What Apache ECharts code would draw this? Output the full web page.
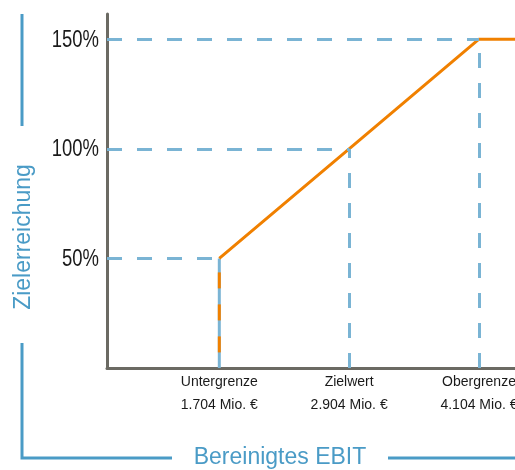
<!DOCTYPE html>
<html>
<head>
<meta charset="utf-8">
<style>
  html, body { margin: 0; padding: 0; background: #ffffff; }
  #chart { width: 515px; height: 470px; }
</style>
<script src="https://cdn.jsdelivr.net/npm/echarts@6/dist/echarts.min.js"></script>
</head>
<body>
<div id="chart"></div>
<script>
// Target thresholds of adjusted EBIT (Mio. €) and the resulting goal achievement (%)
const thresholdNames = ['Untergrenze', 'Zielwert', 'Obergrenze'];
const thresholdValues = [1704, 2904, 4104];
const thresholdLabels = ['1.704 Mio. €', '2.904 Mio. €', '4.104 Mio. €'];
const achievement = [50, 100, 150];
const yTickValues = [50, 100, 150];

// visible axis extent
const xMin = 666;
const xMax = 4437;
const yMin = 0;
const yMax = 161.5;

const ORANGE = '#f08000';
const GUIDE_BLUE = '#7ab4d4';
const TITLE_BLUE = '#4a9bc6';
const AXIS_GREY = '#6b6a63';
const TEXT_FONT = '"Liberation Sans", Arial, sans-serif';

// payout curve: linear between thresholds, capped after the upper limit
const curve = thresholdValues.map((x, i) => [x, achievement[i]]);
curve.push([xMax, achievement[achievement.length - 1]]);

// dashed guide lines from the axes to each threshold point
const guideLines = [];
thresholdValues.forEach((x, i) => {
  guideLines.push([{ coord: [xMin, achievement[i]] }, { coord: [x, achievement[i]] }]);
  if (i > 0) {
    guideLines.push([{ coord: [x, yMin] }, { coord: [x, achievement[i]] }]);
  }
});

const chart = echarts.init(document.getElementById('chart'), null, { renderer: 'canvas' });

chart.setOption({
  animation: false,
  grid: { left: 107, right: 0, top: 14, bottom: 102, outerBoundsMode: 'none', containLabel: false },
  xAxis: {
    type: 'value',
    min: xMin,
    max: xMax,
    splitLine: { show: false },
    axisTick: { show: false },
    axisLine: { lineStyle: { color: AXIS_GREY, width: 3 } },
    axisLabel: {
      customValues: thresholdValues,
      margin: 3,
      fontFamily: TEXT_FONT,
      fontSize: 14,
      lineHeight: 23,
      color: '#1a1a1a',
      hideOverlap: false,
      formatter: function (v) {
        const i = thresholdValues.indexOf(v);
        return i < 0 ? '' : thresholdNames[i] + '\n' + thresholdLabels[i];
      }
    }
  },
  yAxis: {
    type: 'value',
    min: yMin,
    max: yMax,
    splitLine: { show: false },
    axisTick: { show: false },
    axisLine: { lineStyle: { color: AXIS_GREY, width: 3 } },
    // tick labels are drawn below as condensed text
    axisLabel: { show: false }
  },
  series: [
    {
      // blue guides
      type: 'line',
      data: [],
      z: 1,
      silent: true,
      markLine: {
        silent: true,
        symbol: ['none', 'none'],
        label: { show: false },
        lineStyle: { color: GUIDE_BLUE, width: 3, type: [15, 15] },
        data: guideLines
      }
    },
    {
      // solid blue under the lower-limit drop
      type: 'line',
      data: [[thresholdValues[0], yMin], [thresholdValues[0], achievement[0]]],
      z: 2,
      silent: true,
      symbol: 'none',
      lineStyle: { color: GUIDE_BLUE, width: 3 }
    },
    {
      // orange dashes on the lower-limit drop
      type: 'line',
      data: [[thresholdValues[0], achievement[0]], [thresholdValues[0], yMin]],
      z: 3,
      silent: true,
      symbol: 'none',
      lineStyle: { color: ORANGE, width: 3, type: [16, 16], dashOffset: 18 }
    },
    {
      type: 'line',
      data: curve,
      z: 4,
      silent: true,
      symbol: 'none',
      lineStyle: { color: ORANGE, width: 3 }
    }
  ]
});

// condensed percentage labels placed through the y-axis scale
const axisX = chart.convertToPixel({ xAxisIndex: 0 }, xMin);
const yLabels = yTickValues.map(function (v) {
  return {
    type: 'text',
    silent: true,
    x: axisX - 8,
    y: chart.convertToPixel({ yAxisIndex: 0 }, v) + 1,
    scaleX: 0.77,
    style: {
      text: v + '%',
      fill: '#1a1a1a',
      font: '24px ' + TEXT_FONT,
      textAlign: 'right',
      textVerticalAlign: 'middle'
    }
  };
});

chart.setOption({
  graphic: yLabels.concat([
    // bracket around the axis titles
    { type: 'line', silent: true, shape: { x1: 22, y1: 14, x2: 22, y2: 126 }, style: { stroke: TITLE_BLUE, lineWidth: 3 } },
    { type: 'polyline', silent: true, shape: { points: [[22, 343], [22, 458], [172, 458]] }, style: { stroke: TITLE_BLUE, lineWidth: 3, fill: null } },
    { type: 'line', silent: true, shape: { x1: 388, y1: 458, x2: 515, y2: 458 }, style: { stroke: TITLE_BLUE, lineWidth: 3 } },
    {
      type: 'text',
      silent: true,
      x: 23.5, y: 237, rotation: Math.PI / 2,
      style: { text: 'Zielerreichung', fill: TITLE_BLUE, font: '23px ' + TEXT_FONT, textAlign: 'center', textVerticalAlign: 'middle' }
    },
    {
      type: 'text',
      silent: true,
      x: 280, y: 458,
      style: { text: 'Bereinigtes EBIT', fill: TITLE_BLUE, font: '23px ' + TEXT_FONT, textAlign: 'center', textVerticalAlign: 'middle' }
    }
  ])
});
</script>
</body>
</html>
